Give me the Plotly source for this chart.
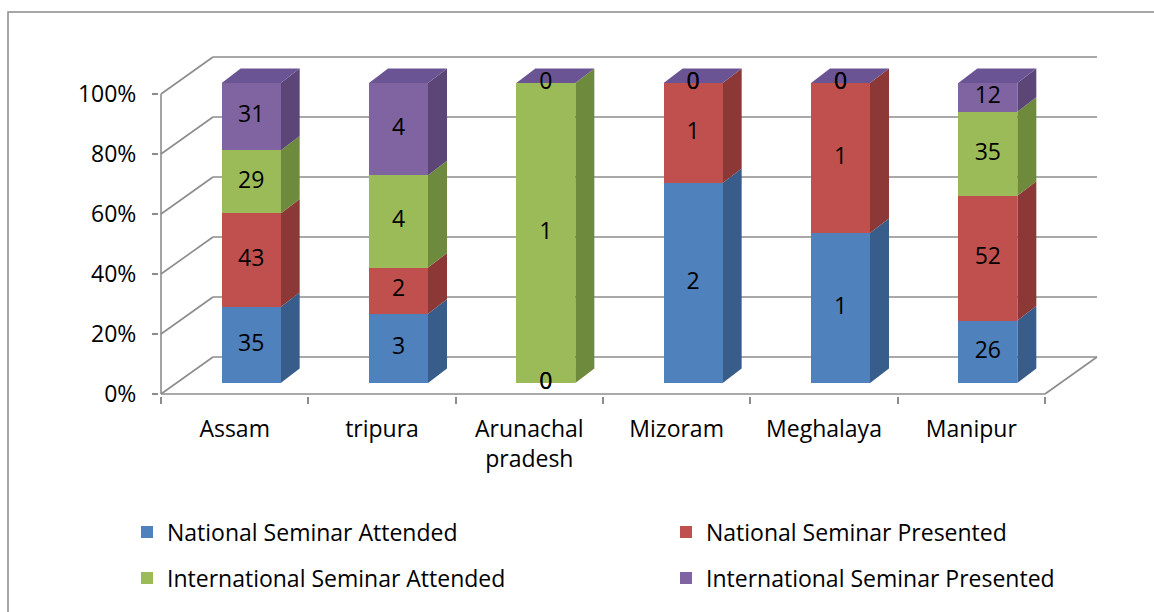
import plotly.graph_objects as go

# Seminar participation counts per state
states = ["Assam", "tripura", "Arunachal<br>pradesh", "Mizoram", "Meghalaya", "Manipur"]
national_attended = [35, 3, 0, 2, 1, 26]
national_presented = [43, 2, 0, 1, 1, 52]
international_attended = [29, 4, 1, 0, 0, 35]
international_presented = [31, 4, 0, 0, 0, 12]
series_names = [
    "National Seminar Attended",
    "National Seminar Presented",
    "International Seminar Attended",
    "International Seminar Presented",
]
pct_ticks = [0, 20, 40, 60, 80, 100]

series_values = [national_attended, national_presented,
                 international_attended, international_presented]

# Colours: front face, side face, top cap
front_colors = ["#4F81BD", "#C0504D", "#9BBB59", "#8064A2"]
side_colors = ["#385D8A", "#8C3836", "#6E8A3C", "#5B4677"]
cap_color = "#6A5493"
grid_color = "#8C8C8C"
FONT = "'Open Sans', sans-serif"
FONT_SIZE = 23

# Page geometry (pixels)
W, H = 1154, 612
PX_CAT = 147.33          # pixels per category
PX_PCT = 3.0             # pixels per percentage point
PLOT_L, PLOT_R, PLOT_T, PLOT_B = 159, 1100, 50, 396
X0 = -0.5 - 2 / PX_CAT
Y0 = -2 / PX_PCT
x_range = [X0, X0 + (PLOT_R - PLOT_L) / PX_CAT]
y_range = [Y0, Y0 + (PLOT_B - PLOT_T) / PX_PCT]

# Oblique projection offsets in data units
WALL_DX, WALL_DY = 52 / PX_CAT, 37 / PX_PCT      # floor/wall depth
BAR_OX, BAR_OY = 16.5 / PX_CAT, 11 / PX_PCT      # bar front face offset
BAR_W = 59 / PX_CAT
BAR_DX, BAR_DY = 19 / PX_CAT, 14.5 / PX_PCT      # bar depth

n = len(states)
totals = [sum(s[i] for s in series_values) for i in range(n)]
percents = [[100.0 * s[i] / totals[i] for i in range(n)] for s in series_values]

shapes = []

def line(x0, y0, x1, y1):
    shapes.append(dict(type="line", xref="x", yref="y", x0=x0, y0=y0, x1=x1, y1=y1,
                       line=dict(color=grid_color, width=1.6), layer="below"))

# Back wall gridlines and side-wall diagonals
for v in pct_ticks:
    line(-0.5 + WALL_DX, v + WALL_DY, n - 0.5 + WALL_DX, v + WALL_DY)
    line(-0.5, v, -0.5 + WALL_DX, v + WALL_DY)
# Floor right edge and front axes
line(n - 0.5, 0, n - 0.5 + WALL_DX, WALL_DY)
line(-0.5, 0, n - 0.5, 0)
line(-0.5, 0, -0.5, 100)

fig = go.Figure()

bar_x = [i + BAR_OX for i in range(n)]
legend_ids = ["legend", "legend2", "legend3", "legend4"]
base = [BAR_OY] * n
for k, name in enumerate(series_names):
    pct = percents[k]
    fig.add_trace(go.Bar(
        x=bar_x, y=pct, base=list(base), width=BAR_W, name=name,
        marker=dict(color=front_colors[k], line=dict(width=0)),
        legend=legend_ids[k], hoverinfo="skip",
    ))
    # Side faces of each segment
    for i in range(n):
        if pct[i] <= 0:
            continue
        xr = bar_x[i] + BAR_W / 2
        b, t = base[i], base[i] + pct[i]
        shapes.append(dict(
            type="path", xref="x", yref="y", layer="below",
            path=f"M{xr},{b} L{xr + BAR_DX},{b + BAR_DY} L{xr + BAR_DX},{t + BAR_DY} L{xr},{t} Z",
            fillcolor=side_colors[k], line=dict(width=0)))
    # Value labels in the middle of each segment
    fig.add_trace(go.Scatter(
        x=bar_x, y=[base[i] + pct[i] / 2 for i in range(n)],
        text=[str(v) for v in series_values[k]], mode="text",
        textfont=dict(family=FONT, size=FONT_SIZE, color="black"),
        showlegend=False, hoverinfo="skip", cliponaxis=False,
    ))
    base = [base[i] + pct[i] for i in range(n)]

# Top caps
for i in range(n):
    xl = bar_x[i] - BAR_W / 2
    xr = bar_x[i] + BAR_W / 2
    t = base[i]
    shapes.append(dict(
        type="path", xref="x", yref="y", layer="below",
        path=f"M{xl},{t} L{xl + BAR_DX},{t + BAR_DY} L{xr + BAR_DX},{t + BAR_DY} L{xr},{t} Z",
        fillcolor=cap_color, line=dict(width=0)))

# Chart frame
pw, ph = PLOT_R - PLOT_L, PLOT_B - PLOT_T
shapes.append(dict(type="rect", xref="paper", yref="paper",
                   x0=(8 - PLOT_L) / pw, x1=(W + 6 - PLOT_L) / pw,
                   y0=(PLOT_B - (H + 6)) / ph, y1=(PLOT_B - 12) / ph,
                   line=dict(color="#8A8A8A", width=1.5), layer="below"))

# Legend entries placed in a 2x2 grid
def lx(px):
    return (px - PLOT_L) / pw

def ly(py):
    return (PLOT_B - py) / ph

legend_pos = [(127, 532), (666, 532), (127, 578), (666, 578)]
legend_layout = {}
for lid, (px, py) in zip(legend_ids, legend_pos):
    legend_layout[lid] = dict(
        x=lx(px), y=ly(py), xanchor="left", yanchor="middle",
        orientation="h", bgcolor="rgba(0,0,0,0)",
        font=dict(family=FONT, size=FONT_SIZE, color="black"),
    )

fig.update_layout(
    width=W, height=H,
    margin=dict(l=PLOT_L, r=W - PLOT_R, t=PLOT_T, b=H - PLOT_B),
    paper_bgcolor="white", plot_bgcolor="white",
    barmode="overlay", bargap=0,
    shapes=shapes,
    xaxis=dict(
        range=x_range, showgrid=False, zeroline=False, showline=False,
        tickmode="array", tickvals=list(range(n)), ticktext=states,
        ticks="", ticklabelstandoff=17,
        tickfont=dict(family=FONT, size=FONT_SIZE, color="black"),
        minor=dict(tickmode="array", tickvals=[i - 0.5 for i in range(n + 1)],
                   ticks="outside", ticklen=7, tickwidth=1.6, tickcolor=grid_color),
    ),
    yaxis=dict(
        range=y_range, showgrid=False, zeroline=False, showline=False,
        tickmode="array", tickvals=pct_ticks, ticktext=[f"{v}%" for v in pct_ticks],
        ticks="outside", ticklen=6, tickwidth=1.6, tickcolor=grid_color,
        ticklabelstandoff=11,
        tickfont=dict(family=FONT, size=FONT_SIZE, color="black"),
    ),
    **legend_layout,
)

fig.write_html("out.html")
